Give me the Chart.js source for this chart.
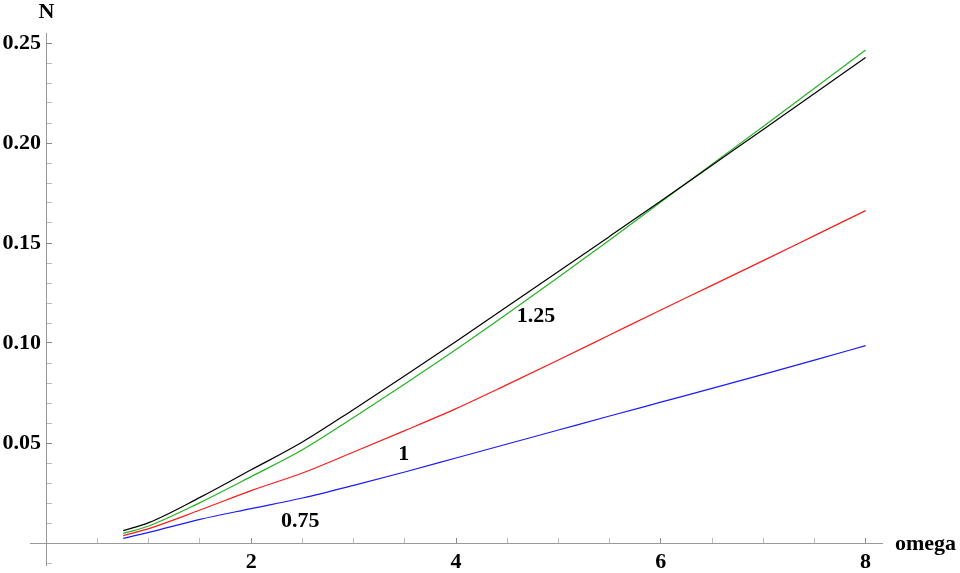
<!DOCTYPE html>
<html>
<head>
<meta charset="utf-8">
<script src="https://cdn.jsdelivr.net/npm/chart.js@4/dist/chart.umd.min.js"></script>
<style>
  html, body { margin: 0; padding: 0; background: #fff; }
</style>
</head>
<body>
<canvas id="chart" width="960" height="573"></canvas>
<script>
// Data
const omega = [0.75, 1, 1.5, 2, 2.5, 3, 3.5, 4, 4.5, 5, 5.5, 6, 6.5, 7, 7.5, 8];
const nTop = [0.0062, 0.0102, 0.0228, 0.0366, 0.0505, 0.0668, 0.0836, 0.1008, 0.1182, 0.1357, 0.1533, 0.1710, 0.1889, 0.2068, 0.2248, 0.2428];
const n125 = [0.0048, 0.0085, 0.0202, 0.0332, 0.0466, 0.0628, 0.0795, 0.0967, 0.1146, 0.1329, 0.1515, 0.1705, 0.1894, 0.2083, 0.2274, 0.2465];
const n100 = [0.0037, 0.0072, 0.0165, 0.0262, 0.0350, 0.0455, 0.0562, 0.0672, 0.0792, 0.0915, 0.1040, 0.1165, 0.1288, 0.1412, 0.1537, 0.1662];
const n075 = [0.0023, 0.0053, 0.0118, 0.0172, 0.0225, 0.0288, 0.0355, 0.0425, 0.0495, 0.0565, 0.0635, 0.0704, 0.0773, 0.0843, 0.0914, 0.0987];

// Curve labels placed in data coordinates
const curveLabels = [
  { text: '0.75', x: 2.48, y: 0.011 },
  { text: '1', x: 3.49, y: 0.0445 },
  { text: '1.25', x: 4.78, y: 0.1135 }
];

const serif = "'Liberation Serif', 'DejaVu Serif', serif";
const toPoints = arr => omega.map((w, i) => ({ x: w, y: arr[i] }));

function makeSet(arr, color) {
  return {
    data: toPoints(arr),
    borderColor: color,
    borderWidth: 1.2,
    pointRadius: 0,
    cubicInterpolationMode: 'monotone',
    fill: false
  };
}

function isMult(v, step) {
  const q = v / step;
  return Math.abs(q - Math.round(q)) < 1e-6;
}

// Remove label overhang padding so the layout padding decides the plot box
function noScalePadding(scale) {
  scale.paddingTop = 0;
  scale.paddingBottom = 0;
  scale.paddingLeft = 0;
  scale.paddingRight = 0;
}

// Axis names and curve labels
const textPlugin = {
  id: 'plotText',
  afterDraw(chart) {
    const { ctx, scales: { x, y }, chartArea } = chart;
    ctx.save();
    ctx.fillStyle = '#000';
    ctx.font = 'bold 22px ' + serif;

    ctx.textAlign = 'center';
    ctx.textBaseline = 'middle';
    ctx.fillText('N', x.getPixelForValue(0), 12);

    ctx.textAlign = 'left';
    ctx.textBaseline = 'alphabetic';
    ctx.fillText('omega', chartArea.right + 13, y.getPixelForValue(0) + 7);

    ctx.textAlign = 'center';
    ctx.textBaseline = 'middle';
    curveLabels.forEach(l => {
      ctx.fillText(l.text, x.getPixelForValue(l.x), y.getPixelForValue(l.y));
    });
    ctx.restore();
  }
};

const ctx = document.getElementById('chart').getContext('2d');
const chart = new Chart(ctx, {
  type: 'line',
  data: {
    datasets: [
      makeSet(nTop, '#000000'),
      makeSet(n125, '#22b422'),
      makeSet(n100, '#ff1a1a'),
      makeSet(n075, '#1a1aff')
    ]
  },
  options: {
    responsive: false,
    animation: false,
    devicePixelRatio: 1,
    layout: { padding: { left: 30, top: 33, right: 78, bottom: 8 } },
    plugins: {
      legend: { display: false },
      tooltip: { enabled: false }
    },
    scales: {
      x: {
        type: 'linear',
        position: { y: 0 },
        min: -0.16,
        max: 8.16,
        afterFit: noScalePadding,
        border: { display: true, color: '#999', width: 1 },
        grid: {
          drawOnChartArea: false,
          drawTicks: true,
          tickLength: -6,
          tickColor: c => isMult(c.tick.value, 2) ? '#888' : '#bbb'
        },
        ticks: {
          stepSize: 0.5,
          includeBounds: false,
          autoSkip: false,
          maxRotation: 0,
          padding: 12,
          color: '#000',
          font: { family: serif, size: 22, weight: 'bold' },
          callback: v => (v > 0 && isMult(v, 2)) ? String(Math.round(v)) : ''
        }
      },
      y: {
        type: 'linear',
        position: { x: 0 },
        min: -0.011,
        max: 0.255,
        afterFit: noScalePadding,
        border: { display: true, color: '#999', width: 1 },
        grid: {
          drawOnChartArea: false,
          drawTicks: true,
          tickLength: -6,
          tickColor: c => isMult(c.tick.value, 0.05) ? '#888' : '#bbb'
        },
        ticks: {
          stepSize: 0.01,
          includeBounds: false,
          autoSkip: false,
          color: '#000',
          font: { family: serif, size: 22, weight: 'bold' },
          // labels sit flush on the axis line here, trailing space keeps a gap
          callback: v => (v > 0.001 && isMult(v, 0.05)) ? v.toFixed(2) + ' ' : ''
        }
      }
    }
  },
  plugins: [textPlugin]
});
</script>
</body>
</html>
